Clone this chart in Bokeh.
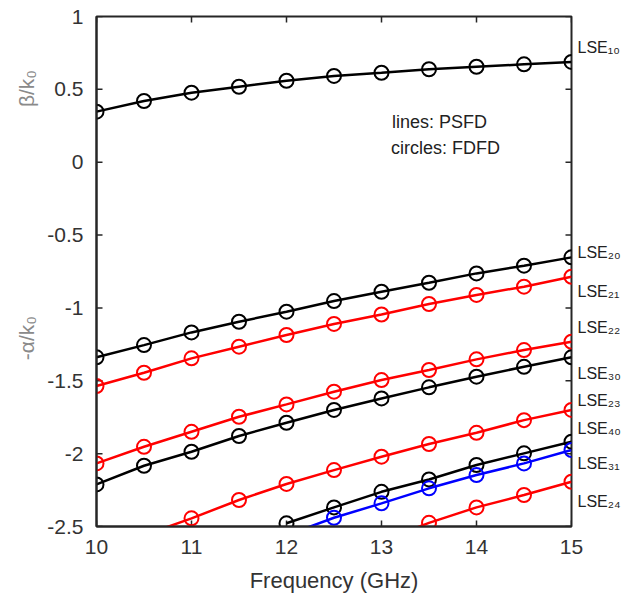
import math
from bokeh.plotting import figure
from bokeh.models import (ColumnDataSource, FixedTicker, LinearAxis, Label,
                          Range1d, Div)
from bokeh.layouts import column
from bokeh.embed import file_html
from bokeh.resources import INLINE

# ---------------- data ----------------
freq = [10, 10.5, 11, 11.5, 12, 12.5, 13, 13.5, 14, 14.5, 15]

lse10 = [0.347, 0.42, 0.477, 0.518, 0.559, 0.592, 0.614, 0.638, 0.655, 0.672, 0.688]
lse20 = [-1.339, -1.255, -1.168, -1.095, -1.026, -0.953, -0.889, -0.827, -0.763, -0.71, -0.653]
lse21 = [-1.536, -1.445, -1.346, -1.266, -1.186, -1.11, -1.045, -0.973, -0.911, -0.854, -0.786]
lse22 = [-2.067, -1.953, -1.85, -1.747, -1.662, -1.575, -1.495, -1.426, -1.353, -1.289, -1.232]
lse30 = [-2.211, -2.083, -1.987, -1.879, -1.788, -1.70, -1.621, -1.545, -1.472, -1.404, -1.339]

freq23 = [10.5, 11, 11.5, 12, 12.5, 13, 13.5, 14, 14.5, 15]
lse23 = [-2.56, -2.444, -2.318, -2.208, -2.113, -2.021, -1.934, -1.857, -1.77, -1.70]

freq40 = [12, 12.5, 13, 13.5, 14, 14.5, 15]
lse40 = [-2.478, -2.369, -2.262, -2.177, -2.078, -1.998, -1.918]

freq31 = [12, 12.5, 13, 13.5, 14, 14.5, 15]
lse31 = [-2.56, -2.44, -2.341, -2.238, -2.147, -2.067, -1.975]

freq24 = [13, 13.5, 14, 14.5, 15]
lse24 = [-2.6, -2.475, -2.369, -2.284, -2.193]

series_x = [freq, freq, freq, freq, freq, freq23, freq40, freq31, freq24]
series_y = [lse10, lse20, lse21, lse22, lse30, lse23, lse40, lse31, lse24]
series_colors = ["#000000", "#000000", "#ff0000", "#ff0000", "#000000",
                 "#ff0000", "#000000", "#0000ff", "#ff0000"]

# mode names shown at the right edge (LSE with subscript indices)
mode_labels = ["LSE\u2081\u2080", "LSE\u2082\u2080", "LSE\u2082\u2081",
               "LSE\u2082\u2082", "LSE\u2083\u2080", "LSE\u2082\u2083",
               "LSE\u2084\u2080", "LSE\u2083\u2081", "LSE\u2082\u2084"]
mode_label_y = [0.789, -0.618, -0.884, -1.133, -1.449, -1.637, -1.826, -2.067, -2.330]

# y-axis titles (upper half: beta, lower half: -alpha)
ytitle_labels = ["\u03b2/k\u2080", "-\u03b1/k\u2080"]
ytitle_y = [0.506, -1.207]

x_ticks = [10, 11, 12, 13, 14, 15]
y_ticks = [1, 0.5, 0, -0.5, -1, -1.5, -2, -2.5]
y_tick_labels = ["1", "0.5", "0", "-0.5", "-1", "-1.5", "-2", "-2.5"]

note_lines = ["lines: PSFD", "circles: FDFD"]
note_x = [13.11, 13.10]
note_y = [0.278, 0.095]

FONT = "Liberation Sans"
AX = "#262626"

p = figure(frame_width=475, frame_height=510,
           min_border_left=96, min_border_right=56,
           min_border_top=16, min_border_bottom=62,
           x_range=Range1d(10, 15), y_range=Range1d(-2.5, 1),
           output_backend="svg", toolbar_location=None,
           x_axis_location=None, y_axis_location=None)
p.xgrid.visible = False
p.ygrid.visible = False
p.outline_line_color = AX
p.outline_line_width = 2
p.background_fill_color = "white"
p.border_fill_color = "white"


def style_axis(ax):
    ax.axis_line_color = AX
    ax.axis_line_width = 2
    ax.major_tick_line_color = None
    ax.minor_tick_line_color = None
    ax.major_label_text_font = FONT
    ax.major_label_text_font_size = "21px"
    ax.major_label_text_color = "#333333"
    ax.major_label_standoff = 7


bottom = LinearAxis(ticker=FixedTicker(ticks=x_ticks))
style_axis(bottom)
bottom.axis_label = "Frequency (GHz)"
bottom.axis_label_text_font = FONT
bottom.axis_label_text_font_size = "22px"
bottom.axis_label_text_font_style = "normal"
bottom.axis_label_text_color = "#333333"
bottom.axis_label_standoff = 11
p.add_layout(bottom, "below")

left = LinearAxis(ticker=FixedTicker(ticks=y_ticks),
                  major_label_overrides={t: s for t, s in zip(y_ticks, y_tick_labels)})
style_axis(left)
p.add_layout(left, "left")

# y titles as an extra (line-less, tick-less) left axis
ytitle_axis = LinearAxis(ticker=FixedTicker(ticks=ytitle_y),
                         major_label_overrides={t: s for t, s in zip(ytitle_y, ytitle_labels)})
ytitle_axis.axis_line_color = None
ytitle_axis.major_tick_line_color = None
ytitle_axis.minor_tick_line_color = None
ytitle_axis.major_label_orientation = "vertical"
ytitle_axis.major_label_text_font = FONT
ytitle_axis.major_label_text_font_size = "21px"
ytitle_axis.major_label_text_color = "#8a8a8a"
ytitle_axis.major_label_standoff = 0
p.add_layout(ytitle_axis, "left")

# mode names as an extra (line-less, tick-less) right axis
mode_axis = LinearAxis(ticker=FixedTicker(ticks=mode_label_y),
                       major_label_overrides={t: s for t, s in zip(mode_label_y, mode_labels)})
mode_axis.axis_line_color = None
mode_axis.major_tick_line_color = None
mode_axis.minor_tick_line_color = None
mode_axis.major_label_text_font = FONT
mode_axis.major_label_text_font_size = "16px"
mode_axis.major_label_text_color = "#222222"
mode_axis.major_label_standoff = 0
p.add_layout(mode_axis, "right")

# ---------------- inward tick marks on all four sides ----------------
n_y, n_x = len(y_ticks), len(x_ticks)
tick_style = dict(marker="dash", size=12, line_color=AX, line_width=1.5)
p.scatter(x=[x_ticks[0]] * n_y, y=y_ticks, **tick_style)
p.scatter(x=[x_ticks[-1]] * n_y, y=y_ticks, **tick_style)
p.scatter(x=x_ticks, y=[y_ticks[-1]] * n_x, angle=math.pi / 2, **tick_style)
p.scatter(x=x_ticks, y=[y_ticks[0]] * n_x, angle=math.pi / 2, **tick_style)

# ---------------- curves ----------------
for xs, ys, col in zip(series_x, series_y, series_colors):
    src = ColumnDataSource(data=dict(x=xs, y=ys))
    p.line("x", "y", source=src, line_color=col, line_width=2.5)
    p.scatter("x", "y", source=src, marker="circle", size=14,
              fill_color=None, line_color=col, line_width=2)

# ---------------- annotation text ----------------
for t, nx, ny in zip(note_lines, note_x, note_y):
    p.add_layout(Label(x=nx, y=ny, text=t, text_font=FONT,
                       text_font_size="18px", text_color="#222222",
                       text_baseline="middle", text_align="left"))

sep = Div(text="&nbsp;", width=612, height=6,
          styles={"border-top": "1px dotted #b8b8b8", "font-size": "1px"})

layout = column(p, sep)
open("out.html", "w").write(file_html(layout, INLINE))
